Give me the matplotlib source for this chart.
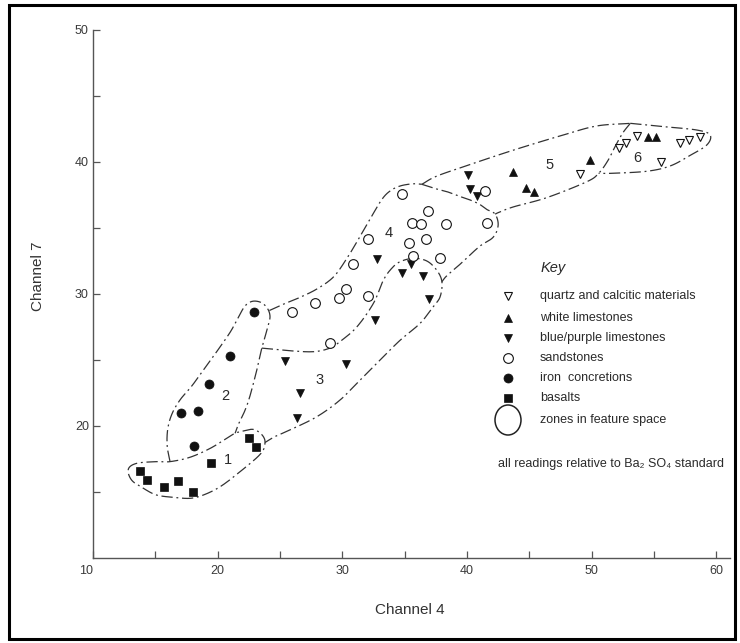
import numpy as np
import matplotlib
matplotlib.use("Agg")
import matplotlib.pyplot as plt
from matplotlib.lines import Line2D
from matplotlib.patches import Rectangle, Ellipse
from matplotlib.ticker import FixedLocator

plt.rcParams['font.family'] = ['Liberation Sans', 'DejaVu Sans']

# ---- readings (Channel 4, Channel 7) ----
quartz_x = [49.1, 52.16, 52.78, 53.6, 55.6, 57.05, 57.8, 58.7]
quartz_y = [39.1, 41.04, 41.46, 41.97, 40.0, 41.46, 41.7, 41.87]

white_x = [43.73, 44.7, 45.4, 49.9, 54.5, 55.2]
white_y = [39.27, 38.0, 37.7, 40.15, 41.9, 41.9]

blue_x = [40.1, 40.26, 40.8, 32.77, 35.5, 34.77, 36.5, 36.97, 32.6, 25.4, 30.3, 26.6, 26.35]
blue_y = [39.0, 37.95, 37.4, 32.63, 32.25, 31.57, 31.4, 29.6, 28.0, 24.9, 24.7, 22.5, 20.6]

sand_x = [34.77, 32.05, 35.36, 36.7, 30.84, 35.7, 37.8, 30.28, 29.74, 27.8, 26.0,
          32.1, 29.0, 36.9, 35.6, 36.3, 38.3, 41.6, 41.46]
sand_y = [37.58, 34.17, 33.9, 34.17, 32.27, 32.9, 32.75, 30.36, 29.7, 29.3, 28.6,
          29.85, 26.3, 36.3, 35.36, 35.3, 35.3, 35.36, 37.8]

iron_x = [22.9, 21.0, 19.3, 18.45, 17.06, 18.1]
iron_y = [28.6, 25.3, 23.2, 21.16, 20.96, 18.5]

basalt_x = [13.77, 14.3, 15.7, 16.8, 18.0, 19.45, 22.55, 23.1]
basalt_y = [16.6, 15.9, 15.4, 15.8, 15.0, 17.2, 19.1, 18.4]

# ---- zone boundaries in feature space ----
zone1 = [(12.83, 16.72), (13.5, 17.17), (15.1, 17.3), (16.18, 17.3), (17.78, 17.63),
         (19.39, 18.3), (20.73, 19.07), (21.4, 19.45), (22.06, 19.62), (22.87, 19.74),
         (23.54, 19.35), (23.8, 18.75), (23.45, 17.9), (21.8, 16.54), (20.2, 15.4),
         (18.85, 14.77), (17.78, 14.52), (16.44, 14.6), (15.1, 14.77), (14.04, 15.28),
         (13.1, 15.9)]
zone2 = [(16.18, 17.3), (15.95, 18.5), (16.0, 19.8), (16.35, 20.95), (17.0, 22.0),
         (17.9, 23.0), (18.9, 24.3), (19.9, 25.6), (21.0, 27.1), (21.7, 28.3),
         (22.2, 29.1), (22.8, 29.45), (23.5, 29.35), (24.0, 28.9), (24.2, 28.3),
         (24.05, 27.6), (23.8, 26.76), (23.54, 25.9), (23.14, 24.24), (22.6, 22.3),
         (22.2, 21.2), (21.7, 20.2), (21.4, 19.45)]
zone3 = [(23.54, 25.9), (25.8, 25.7), (27.7, 25.63), (29.0, 25.9), (29.82, 26.4),
         (31.16, 27.5), (32.5, 29.3), (33.3, 31.06), (33.97, 31.95), (34.64, 32.45),
         (35.7, 32.7), (36.78, 32.5), (37.58, 31.8), (37.99, 30.93), (37.85, 29.8),
         (37.3, 29.04), (36.24, 27.78), (34.64, 26.5), (33.03, 25.0), (31.43, 23.48),
         (29.82, 21.97), (27.95, 20.7), (25.8, 19.7), (24.6, 19.2), (23.8, 18.75)]
zone4_top = [(24.15, 28.75), (25.2, 29.2), (26.5, 29.7), (28.0, 30.4), (29.3, 31.3),
             (30.3, 32.6), (31.2, 34.0), (32.3, 35.8), (33.2, 37.2), (33.9, 37.85),
             (34.7, 38.2), (35.7, 38.35), (36.38, 38.31)]
zone4_right = [(36.38, 38.31), (37.4, 38.0), (38.4, 37.75), (39.4, 37.4), (40.26, 37.12),
               (41.0, 36.8), (41.6, 36.4), (42.26, 36.05), (42.5, 35.2), (42.1, 34.3),
               (41.0, 33.6), (39.5, 32.3), (38.4, 31.4), (37.99, 30.93)]
zone5_top = [(36.38, 38.31), (37.5, 38.9), (39.72, 39.64), (43.73, 40.9), (47.74, 42.05),
             (50.42, 42.73), (53.1, 42.93)]
zone6 = [(53.1, 42.93), (55.77, 42.68), (58.45, 42.42), (59.5, 42.05), (59.25, 41.3),
         (57.9, 40.5), (56.3, 39.7), (54.44, 39.3), (51.76, 39.15), (50.56, 39.14)]
zone5_bottom = [(53.1, 42.93), (52.5, 42.2), (51.9, 41.2), (51.3, 40.1), (50.56, 39.14),
                (49.6, 38.5), (46.4, 37.3), (43.73, 36.6), (42.6, 36.2), (42.26, 36.05)]

zone_labels = ["1", "2", "3", "4", "5", "6"]
zone_label_x = [20.86, 20.65, 28.16, 33.7, 46.6, 53.7]
zone_label_y = [17.4, 22.3, 23.5, 34.6, 39.8, 40.3]


def catmull_rom(points, closed=False, n=14):
    P = np.asarray(points, float)
    if closed:
        P = np.vstack([P[-1], P, P[0], P[1]])
    else:
        P = np.vstack([2 * P[0] - P[1], P, 2 * P[-1] - P[-2]])
    t = np.linspace(0, 1, n, endpoint=False)[:, None]
    out = []
    for i in range(1, len(P) - 2):
        p0, p1, p2, p3 = P[i - 1], P[i], P[i + 1], P[i + 2]
        out.append(0.5 * (2 * p1 + (-p0 + p2) * t
                          + (2 * p0 - 5 * p1 + 4 * p2 - p3) * t ** 2
                          + (-p0 + 3 * p1 - 3 * p2 + p3) * t ** 3))
    out.append(P[-2][None])
    return np.vstack(out)


W, H = 740, 643
fig = plt.figure(figsize=(W / 100, H / 100), dpi=100)
fig.patch.set_facecolor('white')

ax = fig.add_axes([93 / W, 1 - 558 / H, 637 / W, 528 / H])
ax.set_xlim(10, 61.1)
ax.set_ylim(10, 50)

for side in ('top', 'right'):
    ax.spines[side].set_visible(False)
for side in ('left', 'bottom'):
    ax.spines[side].set_color('#555555')
    ax.spines[side].set_linewidth(1.0)

ax.set_xticks([10, 20, 30, 40, 50, 60])
ax.set_xticklabels(['10', '20', '30', '40', '50', '60'])
ax.xaxis.set_minor_locator(FixedLocator([15, 25, 35, 45, 55]))
ax.set_yticks([20, 30, 40, 50])
ax.set_yticklabels(['20', '30', '40', '50'])
ax.yaxis.set_minor_locator(FixedLocator([15, 25, 35, 45]))
ax.tick_params(which='both', direction='in', length=5, width=0.9, color='#555555',
               labelsize=9, labelcolor='#3a3a3a')
ax.tick_params(axis='x', which='major', pad=5)
ax.tick_params(axis='y', which='major', pad=3)
ax.get_xticklabels()[0].set_ha('right')

ax.set_xlabel('Channel 4', fontsize=11, color='#333333')
ax.xaxis.set_label_coords(0.498, -0.098)
ax.xaxis.label.set_va('center')
ax.set_ylabel('Channel 7', fontsize=11, color='#333333')
ax.yaxis.set_label_coords(-0.0863, 0.534)
ax.yaxis.label.set_va('center')

# zone outlines
dash = (0, (9, 3, 1.5, 3))
line_kw = dict(color='#333333', lw=0.9, linestyle=dash, zorder=2)
curve = catmull_rom(zone1, closed=True)
ax.plot(curve[:, 0], curve[:, 1], **line_kw)
for path in (zone2, zone3, zone4_top, zone4_right, zone5_top, zone6, zone5_bottom):
    curve = catmull_rom(path)
    ax.plot(curve[:, 0], curve[:, 1], **line_kw)

for s, x, y in zip(zone_labels, zone_label_x, zone_label_y):
    ax.text(x, y, s, fontsize=10.5, color='#2a2a2a', ha='center', va='center')

# readings
ink = '#111111'
series = [
    (quartz_x, quartz_y, dict(marker='v', ms=6, mfc='white', mec=ink, mew=0.8)),
    (white_x, white_y, dict(marker='^', ms=6, mfc=ink, mec=ink, mew=0.5)),
    (blue_x, blue_y, dict(marker='v', ms=6, mfc=ink, mec=ink, mew=0.5)),
    (sand_x, sand_y, dict(marker='o', ms=7, mfc='white', mec=ink, mew=0.8)),
    (iron_x, iron_y, dict(marker='o', ms=6.5, mfc=ink, mec=ink, mew=0.5)),
    (basalt_x, basalt_y, dict(marker='s', ms=6, mfc=ink, mec=ink, mew=0.5)),
]
for xs, ys, kw in series:
    ax.plot(xs, ys, linestyle='none', zorder=3, **kw)

# key
key_names = ['quartz and calcitic materials', 'white limestones', 'blue/purple limestones',
             'sandstones', 'iron  concretions', 'basalts']
key_rows = [296, 317.7, 337.7, 357.7, 377.7, 398.3]
fig.text(553 / W, 1 - 268 / H, 'Key', fontsize=10.5, style='italic', color='#2a2a2a',
         ha='center', va='center')
for (xs, ys, kw), name, yp in zip(series, key_names, key_rows):
    fig.add_artist(Line2D([508 / W], [1 - yp / H], transform=fig.transFigure,
                          linestyle='none', **kw))
    fig.text(540 / W, 1 - yp / H, name, fontsize=9, color='#2a2a2a', va='center')
fig.add_artist(Ellipse((508 / W, 1 - 420 / H), 26 / W, 30 / H, transform=fig.transFigure,
                       fill=False, ec='#222222', lw=1.1))
fig.text(540 / W, 1 - 420 / H, 'zones in feature space', fontsize=9, color='#2a2a2a',
         va='center')
fig.text(498 / W, 1 - 464 / H, 'all readings relative to Ba₂ SO₄ standard', fontsize=9,
         color='#2a2a2a', va='center')

# frame
fig.add_artist(Rectangle((8.5 / W, 1 - 639 / H), (735 - 8.5) / W, (639 - 5) / H,
                         transform=fig.transFigure, fill=False, ec='black', lw=2.2))

fig.savefig('out.png', dpi=100)
